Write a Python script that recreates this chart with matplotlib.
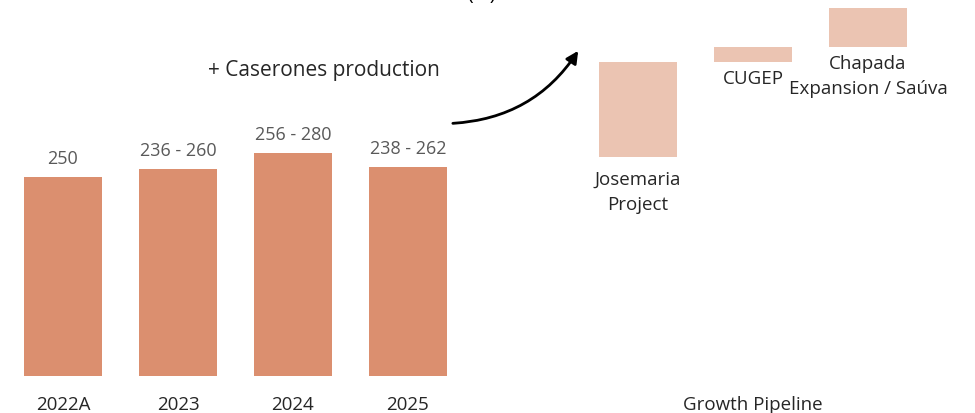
import matplotlib.pyplot as plt
import numpy as np

plt.rcParams["font.family"] = ["Open Sans", "DejaVu Sans"]

# copper production guidance (kt)
years = ["2022A", "2023", "2024", "2025"]
bar_tops = [250, 260, 280, 262]
range_labels = ["250", "236 - 260", "256 - 280", "238 - 262"]

# growth pipeline floating bars
projects = ["Josemaria\nProject", "CUGEP", "Chapada\nExpansion / Saúva"]
pipe_low = [275, 394, 413]
pipe_high = [394, 413, 462]

BAR_COLOR = "#DB8F6F"
PIPE_COLOR = "#EBC4B2"

fig = plt.figure(figsize=(9.75, 4.14), dpi=100)
ax = fig.add_axes([0, 37 / 414, 1, 1 - 37 / 414])

x_years = np.arange(len(years))
x_pipe = np.arange(len(projects)) + 5
width = 0.67

ax.bar(x_years, bar_tops, width=width, color=BAR_COLOR)
for x, top, lbl in zip(x_years, bar_tops, range_labels):
    ax.annotate(lbl, (x, top), xytext=(0, 7), textcoords="offset points",
                ha="center", va="bottom", fontsize=13, color="#595959")

heights = [h - l for l, h in zip(pipe_low, pipe_high)]
ax.bar(x_pipe, heights, bottom=pipe_low, width=width, color=PIPE_COLOR)
label_gaps = [9, 5, 5]
for x, low, lbl, gap in zip(x_pipe, pipe_low, projects, label_gaps):
    ax.annotate(lbl, (x, low), xytext=(0, -gap), textcoords="offset points",
                ha="center", va="top", fontsize=13.5, color="#262626",
                linespacing=1.55)

# arrow from current production to pipeline
ax.annotate("", xy=(4.48, 408), xytext=(3.39, 317),
            arrowprops=dict(arrowstyle="-|>", color="black", lw=2,
                            mutation_scale=18,
                            connectionstyle="arc3,rad=0.25",
                            shrinkA=0, shrinkB=0))
ax.text(2.27, 385, "+ Caserones production", ha="center", va="center",
        fontsize=15, color="#262626")

ax.set_xlim(-63 / 115, (975 - 63) / 115)
ax.set_ylim(0, 377 / 0.797)
ax.set_xticks(list(x_years) + [6])
ax.set_xticklabels(years + ["Growth Pipeline"], fontsize=13.5, color="#262626")
ax.tick_params(axis="x", length=0, pad=14)
ax.set_yticks([])
for s in ax.spines.values():
    s.set_visible(False)

fig.text(481 / 975, 1.0, "(kt)", ha="center", va="baseline", fontsize=14)

fig.savefig("out.png", dpi=100)
